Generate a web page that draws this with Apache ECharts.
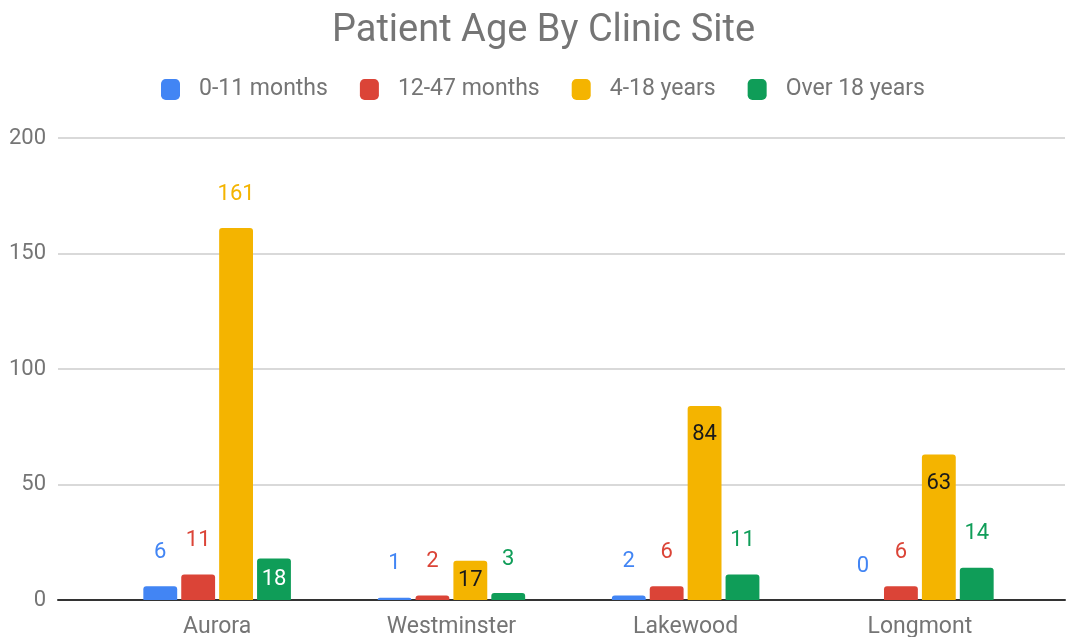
<!DOCTYPE html>
<html>
<head>
<meta charset="utf-8">
<script src="https://cdn.jsdelivr.net/npm/echarts@6/dist/echarts.min.js"></script>
<style>
  html, body { margin: 0; padding: 0; background: #fff; }
  #chart { width: 1069px; height: 637px; }
</style>
</head>
<body>
<div id="chart"></div>
<script>
const sites = ['Aurora', 'Westminster', 'Lakewood', 'Longmont'];
const ageGroups = ['0-11 months', '12-47 months', '4-18 years', 'Over 18 years'];
const infants = [6, 1, 2, 0];
const toddlers = [11, 2, 6, 6];
const children = [161, 17, 84, 63];
const adults = [18, 3, 11, 14];
const yTicks = [0, 50, 100, 150, 200];

const colors = ['#4285F4', '#DB4437', '#F4B400', '#0F9D58'];
const insideColors = ['#fff', '#fff', '#1a1a1a', '#fff'];
const font = 'Roboto, Arial, sans-serif';

// labels: inside for mid-size bars, above (series colour) for short ones and for the very tall one
const makeData = (values, idx) => values.map(v => {
    if (v >= 40 && v < 150) {
        return { value: v, label: { position: 'insideTop', distance: 18, color: insideColors[idx] } };
    }
    if (v >= 15 && v < 40) {
        return { value: v, label: { position: 'inside', color: insideColors[idx] } };
    }
    return { value: v, label: { position: 'top', distance: 23, color: colors[idx] } };
});

const seriesValues = [infants, toddlers, children, adults];

const chart = echarts.init(document.getElementById('chart'));
chart.setOption({
    animation: false,
    color: colors,
    title: {
        text: 'Patient Age By Clinic Site',
        left: 327,
        top: 7,
        textStyle: { fontFamily: font, fontSize: 38, fontWeight: 'normal', color: '#757575' }
    },
    legend: {
        data: ageGroups,
        top: 73,
        left: 156,
        icon: 'roundRect',
        itemWidth: 19,
        itemHeight: 21,
        itemGap: 32,
        textStyle: { fontFamily: font, fontSize: 23, color: '#757575', padding: [0, 0, 0, 14] }
    },
    grid: [
        { left: 58, right: 4, top: 138, bottom: 37, outerBoundsMode: 'none' },
        { left: 100, right: 32, top: 138, bottom: 37, outerBoundsMode: 'none' }
    ],
    xAxis: [
        {
            type: 'category', gridIndex: 0, data: [''],
            axisLine: { lineStyle: { color: '#333', width: 2 } },
            axisTick: { show: false }, axisLabel: { show: false }
        },
        {
            type: 'category', gridIndex: 1, data: sites,
            axisLine: { show: false }, axisTick: { show: false },
            axisLabel: { margin: 16, fontFamily: font, fontSize: 23, color: '#757575' }
        }
    ],
    yAxis: [
        {
            type: 'value', gridIndex: 0,
            min: yTicks[0], max: yTicks[yTicks.length - 1], interval: 50,
            axisLine: { show: false }, axisTick: { show: false },
            splitLine: { lineStyle: { color: '#cccccc', width: 1.5 } },
            axisLabel: { margin: 12, fontFamily: font, fontSize: 22, color: '#757575' }
        },
        {
            type: 'value', gridIndex: 1,
            min: yTicks[0], max: yTicks[yTicks.length - 1], interval: 50,
            show: false, splitLine: { show: false }
        }
    ],
    series: seriesValues.map((vals, i) => ({
        name: ageGroups[i],
        type: 'bar',
        xAxisIndex: 1,
        yAxisIndex: 1,
        barGap: '12%',
        barCategoryGap: '37%',
        itemStyle: { borderRadius: [3, 3, 0, 0] },
        label: { show: true, fontFamily: font, fontSize: 22 },
        data: makeData(vals, i)
    }))
});
</script>
</body>
</html>
